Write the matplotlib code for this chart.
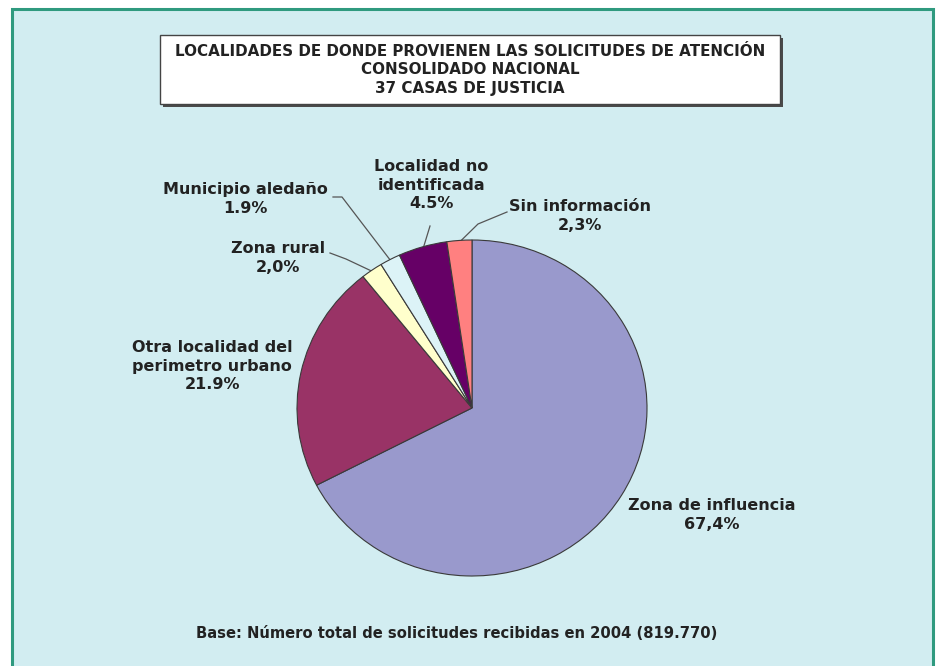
import numpy as np
import matplotlib.pyplot as plt
from matplotlib.patches import Rectangle

# Data (share of requests, %)
categories = ['Zona de influencia', 'Otra localidad del\nperimetro urbano', 'Zona rural',
              'Municipio aledaño', 'Localidad no\nidentificada', 'Sin información']
values = [67.4, 21.9, 2.0, 1.9, 4.5, 2.3]
pct_labels = ['67,4%', '21.9%', '2,0%', '1.9%', '4.5%', '2,3%']
colors = ['#9999cc', '#993366', '#ffffcc', '#dcf3f7', '#660066', '#ff8080']

title_lines = ['LOCALIDADES DE DONDE PROVIENEN LAS SOLICITUDES DE ATENCIÓN',
               'CONSOLIDADO NACIONAL', '37 CASAS DE JUSTICIA']
base_note = 'Base: Número total de solicitudes recibidas en 2004 (819.770)'

W, H = 938, 666
fig = plt.figure(figsize=(W / 100, H / 100), dpi=100)
fig.patch.set_facecolor('white')

# background axes in pixel coordinates
bg = fig.add_axes([0, 0, 1, 1])
bg.set_xlim(0, W)
bg.set_ylim(H, 0)
bg.axis('off')

bg.add_patch(Rectangle((12, 9), 921, 700, facecolor='#d2edf1', edgecolor='#2f9a7f', lw=2.2))

# title box with shadow
bg.add_patch(Rectangle((163, 38), 620, 69, facecolor='#4a4a4a', edgecolor='none'))
bg.add_patch(Rectangle((160, 35), 620, 69, facecolor='white', edgecolor='#444444', lw=1))
bg.text(470, 70, '\n'.join(title_lines), ha='center', va='center', fontsize=10.9,
        fontweight='bold', color='#222222', linespacing=1.28)

bg.text(457, 634, base_note, ha='center', va='center', fontsize=10.6,
        fontweight='bold', color='#222222')

# pie (slightly wider than tall, like the original)
cx, cy, rx, ry = 472, 408, 175, 168
ax = fig.add_axes([(cx - rx) / W, (H - cy - ry) / H, 2 * rx / W, 2 * ry / H])
wedges, _ = ax.pie(values, colors=colors, startangle=90, counterclock=False,
                   wedgeprops=dict(edgecolor='#3a3a3a', linewidth=0.8))
ax.set_aspect('auto')
ax.set_xlim(-1, 1)
ax.set_ylim(-1, 1)

# label positions (pixels) and leader line bends
label_pos = [(712, 515), (212, 366), (278, 258), (245, 199), (431, 185), (580, 216)]
leaders = {2: [(330, 253), (346, 259)], 3: [(333, 197), (342, 197)],
           4: [(430, 226)], 5: [(507, 212), (478, 224)]}

for i, w in enumerate(wedges):
    bg.text(label_pos[i][0], label_pos[i][1], categories[i] + '\n' + pct_labels[i],
            ha='center', va='center', fontsize=11.5, fontweight='bold',
            color='#222222', linespacing=1.3, zorder=5)
    if i in leaders:
        mid = np.deg2rad((w.theta1 + w.theta2) / 2)
        px, py = cx + rx * 0.99 * np.cos(mid), cy - ry * 0.99 * np.sin(mid)
        pts = leaders[i] + [(px, py)]
        bg.plot([p[0] for p in pts], [p[1] for p in pts], color='#555555', lw=0.9, zorder=3)

bg.set_zorder(0)
ax.set_zorder(1)
fig.savefig('out.png', dpi=100)
